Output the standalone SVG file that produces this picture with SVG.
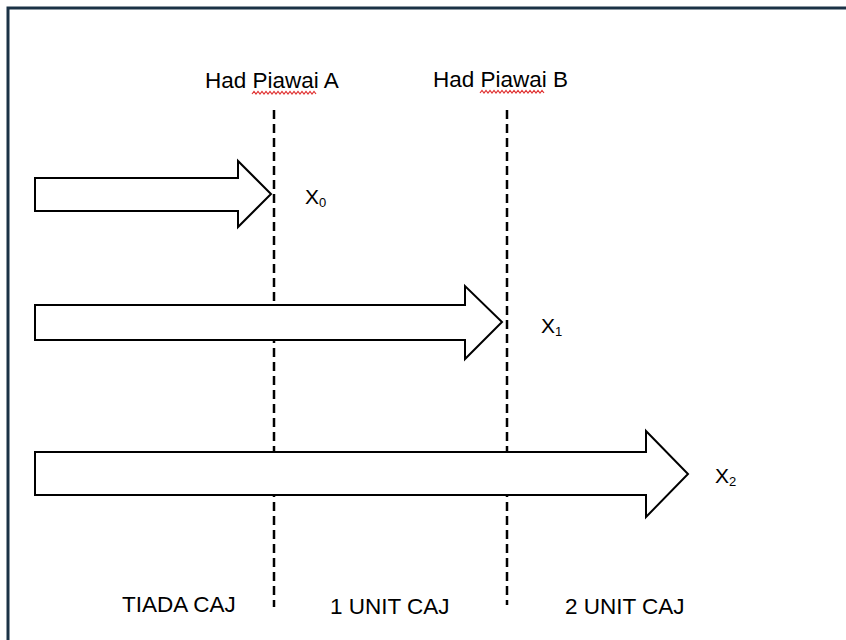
<svg xmlns="http://www.w3.org/2000/svg" width="846" height="640" viewBox="0 0 846 640">
<style>
.t{font-family:"Liberation Sans",Arial,sans-serif;font-size:22.5px;fill:#000}
.x{font-family:"Liberation Sans",Arial,sans-serif;font-size:21px;fill:#000}
.arrow{fill:#fff;stroke:#000;stroke-width:2}
.dash{stroke:#000;stroke-width:2.5;stroke-dasharray:9 5;fill:none}
.sq{fill:none;stroke:#e03030;stroke-width:1.2}
</style>
<rect width="846" height="640" fill="#fff"/>
<path d="M8 640 V8 H846" fill="none" stroke="#1b3246" stroke-width="3"/>
<g id="connectors">
<line class="dash" x1="274" y1="110" x2="274" y2="607"/>
<line class="dash" x1="507" y1="110" x2="507" y2="605"/>
</g>
<g id="labelA"><text class="t" x="205" y="88">Had Piawai A</text>
<path class="sq" d="M252 94 l2 -2.5 l2 2.5 l2 -2.5 l2 2.5 l2 -2.5 l2 2.5 l2 -2.5 l2 2.5 l2 -2.5 l2 2.5 l2 -2.5 l2 2.5 l2 -2.5 l2 2.5 l2 -2.5 l2 2.5 l2 -2.5 l2 2.5 l2 -2.5 l2 2.5 l2 -2.5 l2 2.5 l2 -2.5 l2 2.5 l2 -2.5 l2 2.5 l2 -2.5 l2 2.5 l2 -2.5 l2 2.5 l2 -2.5 l2 2.5"/></g>
<g id="labelB"><text class="t" x="433" y="87">Had Piawai B</text>
<path class="sq" d="M480 93 l2 -2.5 l2 2.5 l2 -2.5 l2 2.5 l2 -2.5 l2 2.5 l2 -2.5 l2 2.5 l2 -2.5 l2 2.5 l2 -2.5 l2 2.5 l2 -2.5 l2 2.5 l2 -2.5 l2 2.5 l2 -2.5 l2 2.5 l2 -2.5 l2 2.5 l2 -2.5 l2 2.5 l2 -2.5 l2 2.5 l2 -2.5 l2 2.5 l2 -2.5 l2 2.5 l2 -2.5 l2 2.5 l2 -2.5 l2 2.5"/></g>
<g id="arrow0"><polygon class="arrow" points="35,178 238,178 238,161 271,194 238,227 238,211 35,211"/>
<text class="x" x="305" y="204">X<tspan font-size="13" dy="3">0</tspan></text></g>
<g id="arrow1"><polygon class="arrow" points="35,305 465,305 465,286 502,322 465,359 465,340 35,340"/>
<text class="x" x="541" y="333">X<tspan font-size="13" dy="3">1</tspan></text></g>
<g id="arrow2"><polygon class="arrow" points="35,452 646,452 646,431 688,474 646,517 646,495 35,495"/>
<text class="x" x="715" y="483">X<tspan font-size="13" dy="3">2</tspan></text></g>
<g id="regions">
<text class="t" x="122" y="612">TIADA CAJ</text>
<text class="t" x="330" y="614">1 UNIT CAJ</text>
<text class="t" x="565" y="614">2 UNIT CAJ</text>
</g>
</svg>
